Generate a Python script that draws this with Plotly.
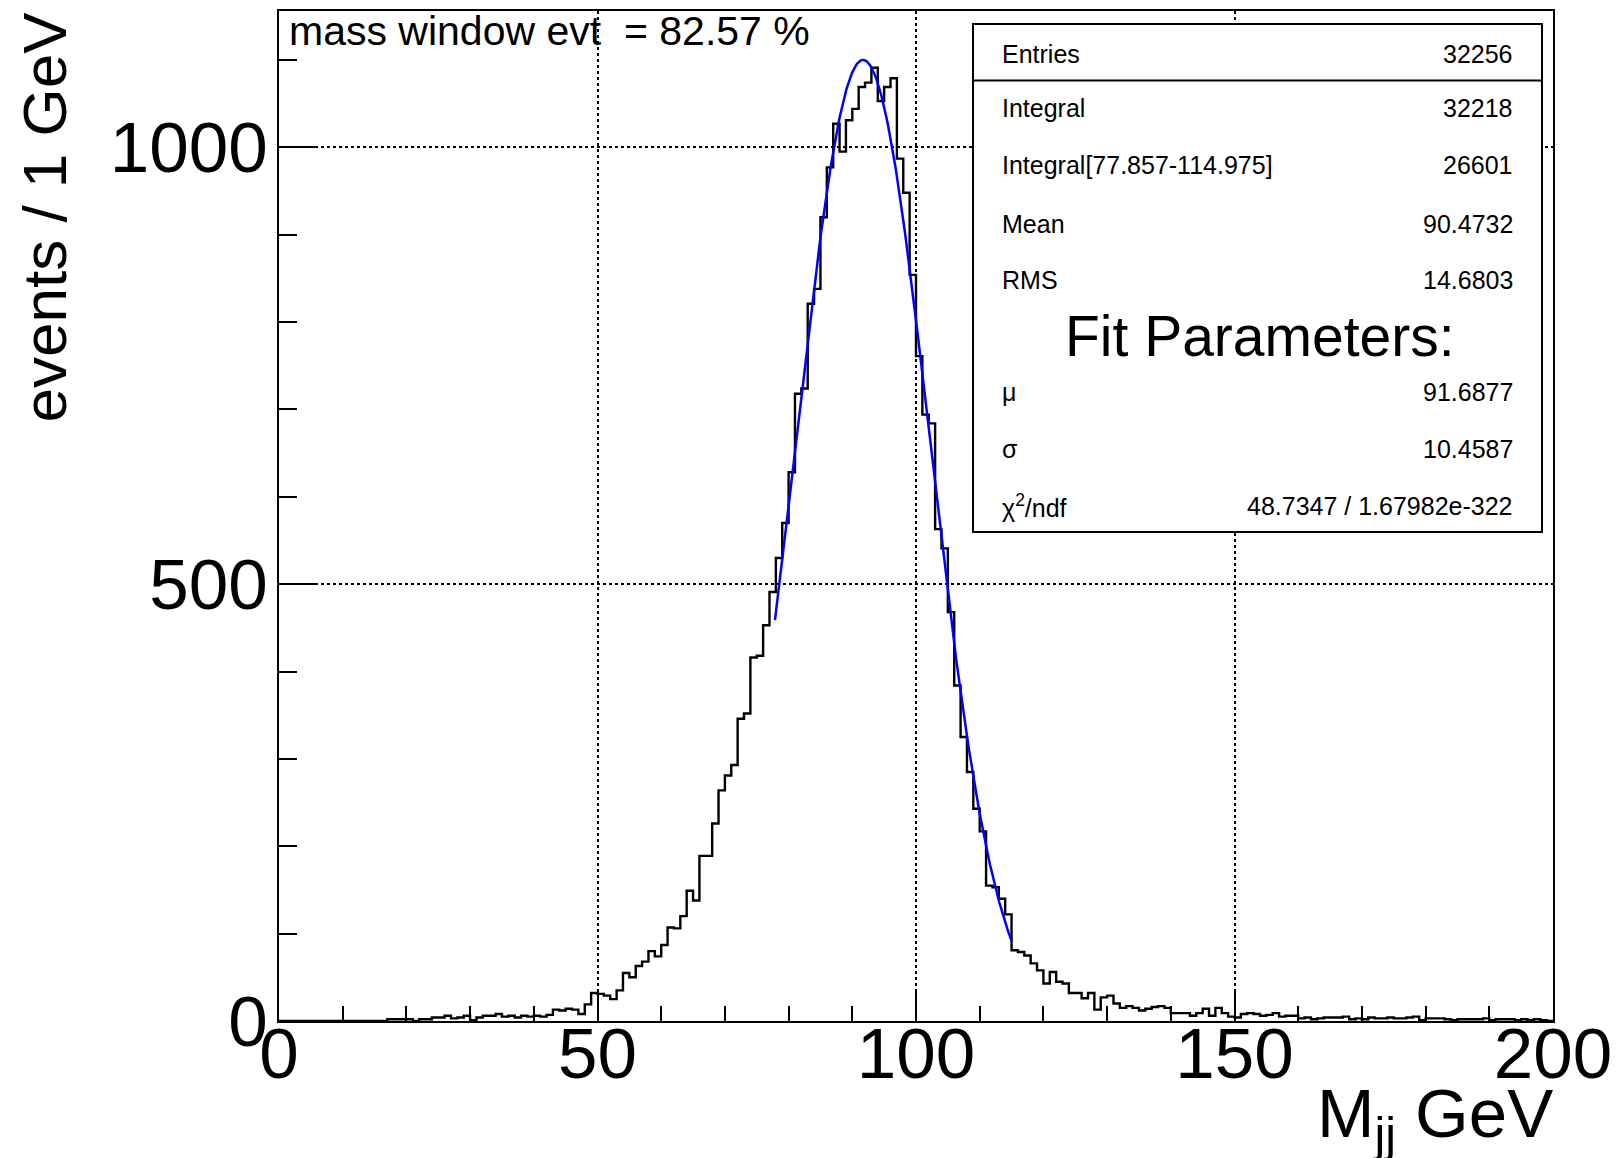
import numpy as np
import plotly.graph_objects as go

# ---- data -------------------------------------------------------------
bin_width = 1.0
x_min, x_max = 0.0, 200.0

# Dijet invariant-mass histogram, events per 1 GeV bin (0..200 GeV)
counts = [
    0, 0, 0, 0, 0, 0, 0, 0, 0, 0,
    0, 0, 0, 0, 0, 0, 0, 2, 2, 2,
    2, 0, 2, 2, 4, 4, 6, 3, 4, 6,
    1, 4, 6, 6, 8, 5, 6, 4, 6, 5,
    6, 5, 7, 13, 12, 14, 13, 8, 19, 32,
    31, 29, 25, 35, 55, 50, 63, 68, 80, 74,
    87, 107, 106, 120, 149, 138, 189, 189, 226, 264,
    281, 293, 346, 352, 416, 418, 453, 491, 530, 570,
    628, 718, 724, 821, 838, 920, 977, 1027, 995, 1031,
    1044, 1069, 1074, 1091, 1053, 1069, 1079, 987, 948, 854,
    761, 694, 684, 563, 541, 468, 384, 325, 285, 243,
    217, 155, 153, 140, 122, 81, 79, 75, 66, 58,
    43, 56, 45, 43, 32, 32, 26, 32, 13, 27,
    29, 20, 15, 17, 15, 12, 14, 16, 17, 15,
    9, 9, 9, 6, 9, 14, 6, 15, 9, 5,
    4, 8, 9, 8, 6, 7, 9, 5, 6, 6,
    3, 4, 2, 3, 4, 4, 4, 5, 2, 3,
    2, 4, 3, 3, 4, 3, 3, 4, 5, 1,
    3, 3, 3, 2, 1, 2, 2, 2, 2, 3,
    1, 2, 2, 2, 1, 2, 1, 2, 1, 0,
]

# Gaussian fit result
fit_constant = 1100.0
fit_mu = 91.6877
fit_sigma = 10.4587
fit_range = (77.857, 114.975)

# Statistics box contents
stats_rows = [
    ("Entries", "32256"),
    ("Integral", "32218"),
    ("Integral[77.857-114.975]", "26601"),
    ("Mean", "90.4732"),
    ("RMS", "14.6803"),
]
fit_rows = [
    ("\u03bc", "91.6877"),
    ("\u03c3", "10.4587"),
    ("\u03c7<sup>2</sup>/ndf", "48.7347 / 1.67982e-322"),
]
window_text = "mass window evt  = 82.57 %"

y_max = 1156
x_label = "M<sub>jj</sub> GeV"
y_label = "events / 1 GeV"

# ---- layout geometry (pixels) -----------------------------------------
W, H = 1618, 1158
L, R, T, B = 279, 1553, 11, 1021
FONT = "Liberation Sans, Arial, Helvetica, sans-serif"


def px_x(p):
    return (p - L) / (R - L)


def px_y(p):
    return (B - p) / (B - T)


# ---- traces -------------------------------------------------------------
edges = x_min + bin_width * np.arange(len(counts) + 1)
step_y = list(counts) + [counts[-1]]

fig = go.Figure()
fig.add_trace(go.Scatter(
    x=edges, y=step_y, mode="lines", line_shape="hv",
    line=dict(color="black", width=2.4), hoverinfo="skip", showlegend=False,
))

xf = np.linspace(fit_range[0], fit_range[1], 300)
yf = fit_constant * np.exp(-0.5 * ((xf - fit_mu) / fit_sigma) ** 2)
fig.add_trace(go.Scatter(
    x=xf, y=yf, mode="lines",
    line=dict(color="rgb(0,0,255)", width=2.5), hoverinfo="skip", showlegend=False,
))

# ---- axes ---------------------------------------------------------------
axis_common = dict(
    showline=True, mirror=True, linecolor="black", linewidth=2,
    ticks="inside", tickcolor="black", tickwidth=2,
    showgrid=True, gridcolor="black", griddash="dot", gridwidth=2,
    zeroline=False, automargin=False,
    tickfont=dict(family=FONT, size=71, color="black"),
)
fig.update_xaxes(
    range=[x_min, x_max], tick0=0, dtick=50, ticklen=32,
    minor=dict(dtick=10, ticklen=15, tickwidth=2, tickcolor="black",
               ticks="inside", showgrid=False),
    ticklabelstandoff=-30,
    **axis_common,
)
fig.update_yaxes(
    range=[0, y_max], tick0=0, dtick=500, ticklen=37,
    minor=dict(dtick=100, ticklen=18, tickwidth=2, tickcolor="black",
               ticks="inside", showgrid=False),
    ticklabelstandoff=-5,
    **axis_common,
)

# ---- statistics box -------------------------------------------------------
box_l, box_r, box_t, box_b = 973, 1542, 24, 532
shapes = [
    dict(type="rect", xref="paper", yref="paper",
         x0=px_x(box_l), x1=px_x(box_r), y0=px_y(box_b), y1=px_y(box_t),
         fillcolor="white", line=dict(color="black", width=2), layer="above"),
    dict(type="line", xref="paper", yref="paper",
         x0=px_x(box_l), x1=px_x(box_r), y0=px_y(80.5), y1=px_y(80.5),
         line=dict(color="black", width=2), layer="above"),
]

annotations = []
stat_font = dict(family=FONT, size=25, color="black")
label_x, value_x = 1000, 1515
row_y = [53.7, 108.4, 165, 224, 280]
for (lab, val), yy in zip(stats_rows, row_y):
    annotations.append(dict(x=px_x(label_x), y=px_y(yy), xref="paper", yref="paper",
                            text=lab, showarrow=False, xanchor="left", yanchor="middle",
                            font=stat_font))
    annotations.append(dict(x=px_x(value_x), y=px_y(yy), xref="paper", yref="paper",
                            text=val, showarrow=False, xanchor="right", yanchor="middle",
                            font=stat_font))

annotations.append(dict(x=px_x(1260), y=px_y(336), xref="paper", yref="paper",
                        text="Fit Parameters:", showarrow=False,
                        xanchor="center", yanchor="middle",
                        font=dict(family=FONT, size=57, color="black")))

fit_row_y = [392, 449, 506]
for (lab, val), yy in zip(fit_rows, fit_row_y):
    annotations.append(dict(x=px_x(label_x), y=px_y(yy), xref="paper", yref="paper",
                            text=lab, showarrow=False, xanchor="left", yanchor="middle",
                            font=stat_font))
    annotations.append(dict(x=px_x(value_x), y=px_y(yy), xref="paper", yref="paper",
                            text=val, showarrow=False, xanchor="right", yanchor="middle",
                            font=stat_font))

# mass-window fraction in the top-left corner
annotations.append(dict(x=px_x(287), y=px_y(31), xref="paper", yref="paper",
                        text=window_text, showarrow=False,
                        xanchor="left", yanchor="middle",
                        font=dict(family=FONT, size=41, color="black")))

# axis titles
annotations.append(dict(x=px_x(1555), y=px_y(1118), xref="paper", yref="paper",
                        text=x_label, showarrow=False,
                        xanchor="right", yanchor="middle",
                        font=dict(family=FONT, size=69, color="black")))
annotations.append(dict(x=px_x(44), y=px_y(10), xref="paper", yref="paper",
                        text=y_label, showarrow=False, textangle=-90,
                        xanchor="center", yanchor="top",
                        font=dict(family=FONT, size=62, color="black")))

fig.update_layout(
    width=W, height=H,
    margin=dict(l=L, r=W - R, t=T, b=H - B, pad=0, autoexpand=False),
    paper_bgcolor="white", plot_bgcolor="white",
    shapes=shapes, annotations=annotations,
    showlegend=False,
)

fig.write_html("out.html")
